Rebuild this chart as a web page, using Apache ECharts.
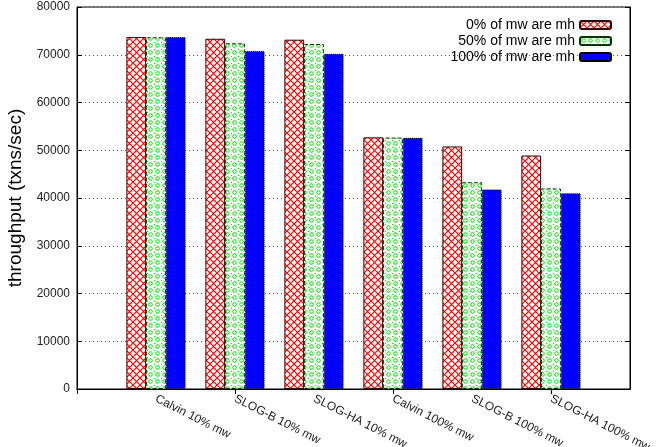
<!DOCTYPE html>
<html><head><meta charset="utf-8">
<script src="https://cdn.jsdelivr.net/npm/echarts@6/dist/echarts.min.js"></script>
<style>html,body{margin:0;padding:0;background:#fff}#c{width:657px;height:447px}</style>
</head><body><div id="c"></div>
<script>
const categories = ['Calvin 10% mw','SLOG-B 10% mw','SLOG-HA 10% mw','Calvin 100% mw','SLOG-B 100% mw','SLOG-HA 100% mw'];
const seriesNames = ['0% of mw are mh','50% of mw are mh','100% of mw are mh'];
const mh0 = [73700, 73350, 73150, 52700, 50800, 48900];
const mh50 = [73650, 72400, 72250, 52650, 43300, 42000];
const mh100 = [73700, 70800, 70200, 52600, 41800, 41000];
const yTicks = [0,10000,20000,30000,40000,50000,60000,70000,80000];

function tile(size, draw){const c=document.createElement('canvas');c.width=size;c.height=size;const g=c.getContext('2d');g.fillStyle='#fff';g.fillRect(0,0,size,size);draw(g,size);return c;}
const redPat = tile(7,(g,s)=>{g.strokeStyle='#ff0000';g.lineWidth=1.2;g.beginPath();g.moveTo(0,0);g.lineTo(s,s);g.moveTo(s,0);g.lineTo(0,s);g.stroke();});
const greenPat = tile(7,(g,s)=>{g.strokeStyle='#00e000';g.lineWidth=1;g.beginPath();g.arc(3.5,3.5,1.8,0,Math.PI*2);g.stroke();g.fillStyle='#00e000';g.fillRect(0,0,1,1);});

const pad = a => [null].concat(a).concat([null]);
const xData = [''].concat(categories).concat(['']);
const font = "'Liberation Sans', Arial, sans-serif";

const chart = echarts.init(document.getElementById('c'), null, {renderer:'canvas'});
const styles = [
  {color:{image:redPat,repeat:'repeat'}, borderColor:'#300', borderWidth:1},
  {color:{image:greenPat,repeat:'repeat'}, borderColor:'#030', borderWidth:1, borderType:'dashed'},
  {color:'#0000ff', borderColor:'#000', borderWidth:1, borderType:'dotted'}
];
const vals = [mh0, mh50, mh100];
chart.setOption({
  animation:false,
  textStyle:{fontFamily:font},
  grid:{left:77, top:7, right:27, bottom:58, show:true, borderColor:'#000', borderWidth:1, containLabel:false, outerBoundsMode:'none'},
  legend:{orient:'vertical', right:40, top:13, align:'right', itemWidth:31, itemHeight:8, itemGap:2,
    textStyle:{fontSize:14, color:'#000', fontFamily:font}, data:seriesNames},
  xAxis:[{type:'category', data:xData, boundaryGap:false,
    axisLine:{lineStyle:{color:'#000'}}, axisTick:{show:false},
    axisLabel:{interval:0, rotate:-27, fontSize:12, color:'#222', margin:9, fontFamily:font},
    splitLine:{show:false}},
   {type:'category', data:xData, boundaryGap:false, position:'top',
    axisLine:{lineStyle:{color:'#000'}}, axisTick:{inside:true, length:5, lineStyle:{color:'#000'}},
    axisLabel:{show:false}, splitLine:{show:false}}],
  yAxis:[{type:'value', min:yTicks[0], max:yTicks[yTicks.length-1], interval:10000,
    name:'throughput (txns/sec)', nameLocation:'middle', nameGap:47, nameTextStyle:{fontSize:19, color:'#000', fontFamily:font},
    axisLine:{show:true, lineStyle:{color:'#000'}}, axisTick:{show:true, inside:true, length:5, lineStyle:{color:'#000'}},
    axisLabel:{fontSize:12, color:'#222', margin:7, fontFamily:font, formatter:v=>String(v)},
    splitLine:{show:true, lineStyle:{color:'#555', type:[1,3], width:1}}},
   {type:'value', min:yTicks[0], max:yTicks[yTicks.length-1], interval:10000, position:'right',
    axisLine:{show:true, lineStyle:{color:'#000'}}, axisTick:{show:true, inside:true, length:5, lineStyle:{color:'#000'}},
    axisLabel:{show:false}, splitLine:{show:false}}],
  series: seriesNames.map((n,i)=>({name:n, type:'bar', data:pad(vals[i]), barWidth:'25%', barGap:'0%', itemStyle:styles[i]}))
});
</script></body></html>
